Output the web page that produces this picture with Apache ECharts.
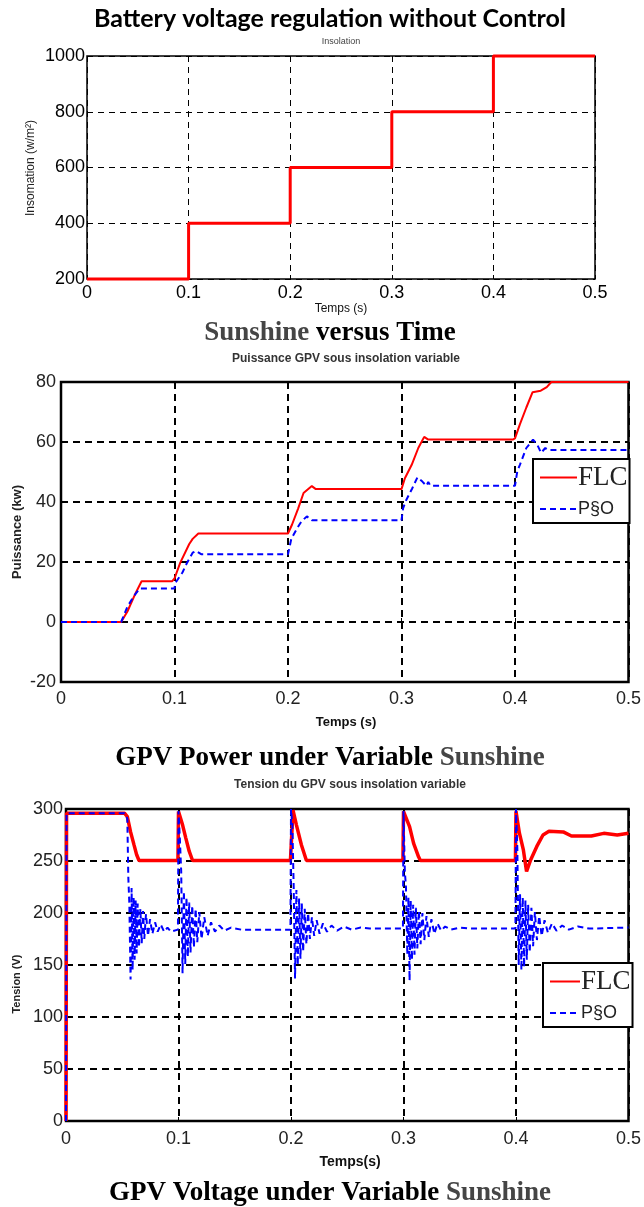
<!DOCTYPE html>
<html>
<head>
<meta charset="utf-8">
<script src="https://cdn.jsdelivr.net/npm/echarts@6/dist/echarts.min.js"></script>
<style>
  html, body { margin: 0; padding: 0; background: #fff; }
  #chart { width: 644px; height: 1207px; }
</style>
</head>
<body>
<div id="chart"></div>
<script>
// chart 1: insolation steps
const insolTime = [0, 0.1, 0.2, 0.3, 0.4, 0.5];
const insolValue = [200, 400, 600, 800, 1000, 1000];

// chart 2: GPV power (kW)
const flcPowerTime = [0, 0.053, 0.0585, 0.0657, 0.071, 0.098, 0.1, 0.105, 0.113, 0.116, 0.121, 0.2, 0.2036, 0.209, 0.2137, 0.221, 0.2245, 0.3, 0.303, 0.309, 0.3148, 0.32, 0.3236, 0.398, 0.4, 0.4043, 0.41, 0.4155, 0.4227, 0.428, 0.432, 0.5];
const flcPowerValue = [0, 0, 3.5, 9.6, 13.6, 13.6, 14.5, 19.7, 26, 27.7, 29.5, 29.5, 32.5, 37.9, 43, 45.3, 44.3, 44.3, 47.9, 52.4, 58, 61.7, 60.8, 60.8, 61.2, 65.9, 71.5, 76.6, 77.1, 78.3, 80, 80];
const pvoPowerTime = [0, 0.053, 0.0585, 0.064, 0.0693, 0.1, 0.1007, 0.107, 0.111, 0.116, 0.119, 0.1235, 0.2, 0.2029, 0.2083, 0.212, 0.2166, 0.221, 0.3, 0.3014, 0.304, 0.3094, 0.314, 0.3184, 0.322, 0.3236, 0.3255, 0.4, 0.402, 0.4043, 0.41, 0.4159, 0.4195, 0.423, 0.4267, 0.43, 0.5];
const pvoPowerValue = [0, 0, 5.1, 8.5, 11.2, 11.2, 13, 16.5, 19.7, 23.1, 23.7, 22.6, 22.6, 27.7, 31.4, 33.6, 35.2, 33.9, 33.9, 37.9, 40.5, 44.5, 48.2, 46.8, 45.4, 46.7, 45.4, 45.4, 50.2, 52.4, 58, 60.8, 59.2, 56.4, 58, 57.3, 57.3];

// chart 3: GPV voltage (V)
const flcVoltTime = [0, 0.0005, 0.052, 0.0545, 0.0574, 0.0604, 0.0628, 0.0649, 0.0995, 0.1, 0.1036, 0.1065, 0.1095, 0.1125, 0.1995, 0.2018, 0.2048, 0.2092, 0.2137, 0.2995, 0.3, 0.3054, 0.309, 0.3134, 0.315, 0.3995, 0.4, 0.403, 0.4065, 0.4094, 0.413, 0.4185, 0.424, 0.4293, 0.442, 0.4493, 0.467, 0.478, 0.49, 0.5];
const flcVoltValue = [0, 296, 296, 292.7, 278, 265.7, 256, 250.5, 250.5, 297.5, 284.8, 272, 259.4, 250.5, 250.5, 299, 284.8, 265.7, 250.5, 250.5, 297.8, 283, 267, 254, 250.5, 250.5, 297.7, 277, 261, 240, 251, 264, 275, 278.5, 278, 274, 274, 276.6, 275, 276.6];
const pvoVoltTime = [0, 0.0005, 0.052, 0.0545, 0.0554, 0.0563, 0.0574, 0.0583, 0.0592, 0.0601, 0.061, 0.0619, 0.0628, 0.0637, 0.0649, 0.0661, 0.0673, 0.0685, 0.0696, 0.0711, 0.0729, 0.0747, 0.0768, 0.0792, 0.0815, 0.0842, 0.0872, 0.0902, 0.0932, 0.0995,
  0.1, 0.1012, 0.1024, 0.1036, 0.1048, 0.106, 0.1071, 0.1083, 0.1095, 0.1107, 0.1122, 0.1137, 0.1152, 0.1167, 0.1185, 0.1205, 0.1229, 0.1259, 0.1289, 0.1324, 0.1363, 0.1408, 0.1467, 0.1557, 0.1995,
  0.2, 0.2012, 0.2024, 0.2036, 0.2048, 0.206, 0.2072, 0.2084, 0.2096, 0.2108, 0.2122, 0.2137, 0.2152, 0.2168, 0.2186, 0.2206, 0.2228, 0.2254, 0.2284, 0.232, 0.236, 0.241, 0.247, 0.254, 0.262, 0.27, 0.2995,
  0.3, 0.3012, 0.3022, 0.3034, 0.3044, 0.3054, 0.3064, 0.3075, 0.3086, 0.3098, 0.311, 0.3123, 0.3137, 0.3152, 0.3168, 0.3185, 0.3204, 0.3225, 0.3248, 0.3274, 0.3302, 0.3335, 0.337, 0.342, 0.35, 0.36, 0.3995,
  0.4, 0.4012, 0.4024, 0.4036, 0.4048, 0.406, 0.4072, 0.4084, 0.4096, 0.4108, 0.4122, 0.4137, 0.4152, 0.4168, 0.4186, 0.4206, 0.4228, 0.4254, 0.4284, 0.432, 0.436, 0.441, 0.447, 0.455, 0.465, 0.5];
const pvoVoltValue = [0, 296, 296, 291, 234, 209, 136, 224, 145, 215, 155, 212, 161, 209, 167, 204, 171, 202, 175, 199, 178, 194, 180, 191, 182, 189, 182, 186, 182, 184,
  298, 272, 240, 142, 221, 151, 215, 158, 210, 162, 207, 167, 204, 172, 201, 175, 196, 178, 191, 182, 188, 183, 186, 184, 184,
  300, 285, 225, 137, 222, 150, 214, 156, 209, 163, 204, 170, 200, 175, 196, 178, 193, 180, 190, 182, 188, 183, 187, 184, 186, 185, 185,
  298, 240, 225, 160, 215, 135, 212, 155, 208, 160, 205, 166, 202, 170, 200, 174, 197, 177, 194, 180, 190, 183, 187, 184, 186, 185, 185,
  300, 262, 150, 218, 145, 215, 148, 212, 155, 208, 162, 205, 168, 201, 174, 197, 178, 193, 181, 190, 183, 188, 184, 187, 185, 186];

const zip = (t, v) => t.map((x, i) => [x, v[i]]);

const myChart = echarts.init(document.getElementById('chart'), null, { renderer: 'canvas' });

const gridLine = (w, dash) => ({ show: true, lineStyle: { color: '#000', width: w, type: dash } });

function xAxisFor(i, fs, margin, splitW, dash, col) {
  return {
    gridIndex: i, type: 'value', min: 0, max: 0.5, interval: 0.1,
    axisLine: { show: false },
    axisTick: { show: true, inside: true, length: 4, lineStyle: { color: '#000' } },
    axisLabel: { color: col, fontSize: fs, fontFamily: 'Liberation Sans', margin: margin,
      formatter: (v) => String(Math.round(v * 10) / 10) },
    splitLine: gridLine(splitW, dash)
  };
}
function yAxisFor(i, min, max, step, fs, margin, splitW, dash, col) {
  return {
    gridIndex: i, type: 'value', min: min, max: max, interval: step,
    axisLine: { show: false },
    axisTick: { show: true, inside: true, length: 4, lineStyle: { color: '#000' } },
    axisLabel: { color: col, fontSize: fs, fontFamily: 'Liberation Sans', margin: margin,
      formatter: (v) => String(v) },
    splitLine: gridLine(splitW, dash)
  };
}

const txt = (x, y, text, font, extra) => ({
  type: 'text', x: x, y: y, z: 10,
  style: Object.assign({ text: text, font: font, fill: '#111', align: 'center', verticalAlign: 'middle' }, extra || {})
});
const vtxt = (x, y, text, font) => ({
  type: 'text', x: x, y: y, rotation: Math.PI / 2, z: 10,
  style: { text: text, font: font, fill: '#222', align: 'center', verticalAlign: 'middle' }
});

const captionRich = {
  k: { fontFamily: 'Liberation Serif', fontWeight: 'bold', fontSize: 27, fill: '#000' },
  g: { fontFamily: 'Liberation Serif', fontWeight: 'bold', fontSize: 27, fill: '#454545' }
};

const legendFor = (left, top, iconW) => ({
  orient: 'vertical', left: left, top: top,
  itemWidth: iconW, itemHeight: 14, itemGap: 9,
  padding: [5, 2, 5, 6],
  borderColor: '#000', borderWidth: 2, backgroundColor: '#fff',
  selectedMode: false,
  itemStyle: { opacity: 0 },
  data: ['FLC', 'P§O'],
  formatter: (n) => n === 'FLC' ? '{a|FLC}' : '{b|P§O}',
  textStyle: {
    padding: [0, 0, 0, -4],
    rich: {
      a: { fontFamily: 'Liberation Serif', fontSize: 27, color: '#222' },
      b: { fontFamily: 'Liberation Sans', fontSize: 18, color: '#222' }
    }
  }
});

const option = {
  animation: false,
  backgroundColor: '#fff',
  grid: [
    { left: 87, top: 56, width: 508, height: 223, show: true, borderColor: '#000', borderWidth: 1.5, backgroundColor: '#fff' },
    { left: 61, top: 382, width: 573, height: 300, show: true, borderColor: '#000', borderWidth: 2.5, backgroundColor: '#fff' },
    { left: 66, top: 809, width: 570, height: 312, show: true, borderColor: '#000', borderWidth: 2.5, backgroundColor: '#fff' }
  ],
  xAxis: [
    xAxisFor(0, 18, 5, 1, [6, 5], '#000'),
    xAxisFor(1, 18, 8, 2, [7, 5], '#222'),
    xAxisFor(2, 18, 9, 2, [7, 5], '#222')
  ],
  yAxis: [
    yAxisFor(0, 200, 1000, 200, 18, 2, 1, [6, 5], '#000'),
    yAxisFor(1, -20, 80, 20, 18, 5, 2, [7, 5], '#222'),
    yAxisFor(2, 0, 300, 50, 18, 3, 2, [7, 5], '#222')
  ],
  legend: [legendFor(533, 459, 37), legendFor(543, 963, 30)],
  series: [
    { type: 'line', name: 'Insolation', xAxisIndex: 0, yAxisIndex: 0, step: 'end', symbol: 'none', clip: false,
      data: zip(insolTime, insolValue), lineStyle: { color: '#ff0000', width: 3 }, itemStyle: { color: '#ff0000' } },
    { type: 'line', name: 'FLC', xAxisIndex: 1, yAxisIndex: 1, symbol: 'none', clip: false,
      data: zip(flcPowerTime, flcPowerValue), lineStyle: { color: '#ff0000', width: 2 }, itemStyle: { color: '#ff0000' } },
    { type: 'line', name: 'P§O', xAxisIndex: 1, yAxisIndex: 1, symbol: 'none', clip: false,
      data: zip(pvoPowerTime, pvoPowerValue), lineStyle: { color: '#0000ff', width: 2, type: [6, 4] }, itemStyle: { color: '#0000ff' } },
    { type: 'line', name: 'FLC', xAxisIndex: 2, yAxisIndex: 2, symbol: 'none', clip: false,
      data: zip(flcVoltTime, flcVoltValue), lineStyle: { color: '#ff0000', width: 3.5 }, itemStyle: { color: '#ff0000' } },
    { type: 'line', name: 'P§O', xAxisIndex: 2, yAxisIndex: 2, symbol: 'none', clip: false,
      data: zip(pvoVoltTime, pvoVoltValue), lineStyle: { color: '#0000ff', width: 2, type: [6, 4] }, itemStyle: { color: '#0000ff' } }
  ],
  graphic: [
    txt(330, 19, 'Battery voltage regulation without Control', 'bold 25px Lato', { fill: '#000' }),
    txt(341, 42, 'Insolation', '9px "Liberation Sans"', { fill: '#444' }),
    vtxt(31, 168, 'Insomation (w/m²)', '12px "Liberation Sans"'),
    txt(341, 309, 'Temps (s)', '12px "Liberation Sans"'),
    txt(330, 333, '{g|Sunshine} {k|versus Time}', '27px "Liberation Serif"', { rich: captionRich }),
    txt(346, 359, 'Puissance GPV sous insolation variable', 'bold 12px "Liberation Sans"', { fill: '#333' }),
    vtxt(17, 532, 'Puissance (kw)', 'bold 13px "Liberation Sans"'),
    txt(346, 722, 'Temps (s)', 'bold 13px "Liberation Sans"'),
    txt(330, 758, '{k|GPV Power under Variable} {g|Sunshine}', '27px "Liberation Serif"', { rich: captionRich }),
    txt(350, 785, 'Tension du GPV sous insolation variable', 'bold 12px "Liberation Sans"', { fill: '#333' }),
    vtxt(17, 984, 'Tension (V)', 'bold 11px "Liberation Sans"'),
    txt(350, 1162, 'Temps(s)', 'bold 14px "Liberation Sans"'),
    txt(330, 1193, '{k|GPV Voltage under Variable} {g|Sunshine}', '27px "Liberation Serif"', { rich: captionRich })
  ]
};

myChart.setOption(option);
</script>
</body>
</html>
